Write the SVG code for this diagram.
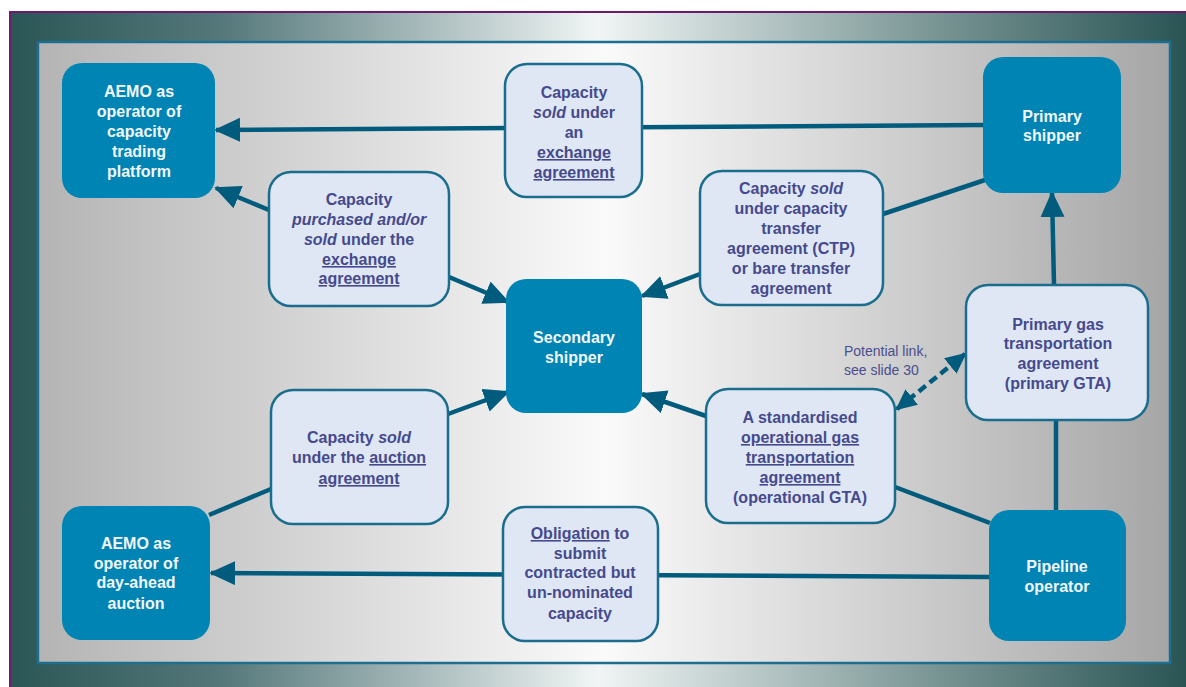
<svg xmlns="http://www.w3.org/2000/svg" width="1186" height="687" viewBox="0 0 1186 687">
  <defs>
    <linearGradient id="frameGrad" x1="0" y1="0" x2="1" y2="0">
      <stop offset="0" stop-color="#2b5656"/>
      <stop offset="0.18" stop-color="#55787a"/>
      <stop offset="0.5" stop-color="#f1f5f5"/>
      <stop offset="0.78" stop-color="#7b9796"/>
      <stop offset="1" stop-color="#2a5454"/>
    </linearGradient>
    <linearGradient id="panelGrad" x1="0" y1="0" x2="1" y2="0">
      <stop offset="0" stop-color="#b4b4b4"/>
      <stop offset="0.5" stop-color="#fafafa"/>
      <stop offset="1" stop-color="#a6a6a6"/>
    </linearGradient>
    <marker id="arrow" markerUnits="userSpaceOnUse" markerWidth="27" markerHeight="25" refX="24" refY="12" orient="auto">
      <path d="M0,0 L26,12 L0,24 Z" fill="#005b7c"/>
    </marker>
    <marker id="arrowSmall" markerUnits="userSpaceOnUse" markerWidth="22" markerHeight="21" refX="19" refY="10" orient="auto-start-reverse">
      <path d="M0,0 L21,10 L0,20 Z" fill="#005b7c"/>
    </marker>
    <style>
      .dark { fill: #0084b3; }
      .light { fill: #dfe7f5; stroke: #1b6d8e; stroke-width: 2.5; }
      .wt { font-family: "Liberation Sans", Arial, sans-serif; font-weight: bold; font-size: 16px; fill: #f2f6fa; text-anchor: middle; }
      .bt { font-family: "Liberation Sans", Arial, sans-serif; font-weight: bold; font-size: 16px; fill: #464a8c; text-anchor: middle; }
      .u { text-decoration: underline; }
      .i { font-style: italic; }
      .conn { stroke: #005b7c; stroke-width: 4.5; fill: none; }
      .dash { stroke-dasharray: 9 5; }
      .note { font-family: "Liberation Sans", Arial, sans-serif; font-size: 14px; fill: #4a4d8e; }
    </style>
  </defs>

  <!-- background frame -->
  <rect x="0" y="0" width="1186" height="687" fill="#ffffff"/>
  <rect x="10" y="12" width="1176" height="675" fill="url(#frameGrad)"/>
  <path d="M10,687 L10,12 L1186,12" fill="none" stroke="#6b1a6e" stroke-width="2"/>
  <rect x="38" y="42" width="1132" height="621" fill="url(#panelGrad)" stroke="#1e6f8f" stroke-width="2.5"/>

  <!-- connectors -->
  <g id="connectors">
    <line class="conn" x1="983" y1="125" x2="216" y2="130" marker-end="url(#arrow)"/>
    <line class="conn" x1="269" y1="210" x2="216" y2="188" marker-end="url(#arrow)"/>
    <line class="conn" x1="449" y1="277" x2="508" y2="302" marker-end="url(#arrow)"/>
    <line class="conn" x1="700" y1="274" x2="642" y2="296" marker-end="url(#arrow)"/>
    <line class="conn" x1="985" y1="180" x2="883" y2="214"/>
    <line class="conn" x1="448" y1="414" x2="508" y2="392" marker-end="url(#arrow)"/>
    <line class="conn" x1="271" y1="489" x2="209" y2="515"/>
    <line class="conn" x1="989" y1="577" x2="211" y2="573" marker-end="url(#arrow)"/>
    <line class="conn" x1="706" y1="416" x2="642" y2="394" marker-end="url(#arrow)"/>
    <line class="conn" x1="990" y1="523" x2="895" y2="487"/>
    <line class="conn" x1="1056" y1="512" x2="1056" y2="420"/>
    <line class="conn" x1="1054" y1="285" x2="1052" y2="193" marker-end="url(#arrow)"/>
    <line class="conn dash" x1="897" y1="409" x2="965" y2="354" marker-start="url(#arrowSmall)" marker-end="url(#arrowSmall)"/>
    <text class="note" x="844" y="356">Potential link,</text>
    <text class="note" x="844" y="375">see slide 30</text>
  </g>

  <!-- nodes -->
  <g id="aemo-trading">
    <rect class="dark" x="62" y="63" width="153" height="135" rx="20"/>
    <text class="wt" x="139" y="97">AEMO as</text>
    <text class="wt" x="139" y="117">operator of</text>
    <text class="wt" x="139" y="137">capacity</text>
    <text class="wt" x="139" y="157">trading</text>
    <text class="wt" x="139" y="177">platform</text>
  </g>

  <g id="exchange-sold">
    <rect class="light" x="505" y="64" width="137" height="133" rx="22"/>
    <text class="bt" x="574" y="98">Capacity</text>
    <text class="bt" x="574" y="118"><tspan class="i">sold</tspan> under</text>
    <text class="bt" x="574" y="138">an</text>
    <text class="bt u" x="574" y="158">exchange</text>
    <text class="bt u" x="574" y="178">agreement</text>
  </g>

  <g id="primary-shipper">
    <rect class="dark" x="983" y="57" width="138" height="136" rx="20"/>
    <text class="wt" x="1052" y="122">Primary</text>
    <text class="wt" x="1052" y="141">shipper</text>
  </g>

  <g id="exchange-purchased">
    <rect class="light" x="269" y="172" width="180" height="134" rx="22"/>
    <text class="bt" x="359" y="205">Capacity</text>
    <text class="bt i" x="359" y="225">purchased and/or</text>
    <text class="bt" x="359" y="245"><tspan class="i">sold</tspan> under the</text>
    <text class="bt u" x="359" y="265">exchange</text>
    <text class="bt u" x="359" y="284">agreement</text>
  </g>

  <g id="secondary-shipper">
    <rect class="dark" x="506" y="279" width="136" height="134" rx="20"/>
    <text class="wt" x="574" y="343">Secondary</text>
    <text class="wt" x="574" y="363">shipper</text>
  </g>

  <g id="ctp">
    <rect class="light" x="700" y="171" width="183" height="134" rx="22"/>
    <text class="bt" x="791" y="194">Capacity <tspan class="i">sold</tspan></text>
    <text class="bt" x="791" y="214">under capacity</text>
    <text class="bt" x="791" y="234">transfer</text>
    <text class="bt" x="791" y="254">agreement (CTP)</text>
    <text class="bt" x="791" y="274">or bare transfer</text>
    <text class="bt" x="791" y="294">agreement</text>
  </g>

  <g id="primary-gta">
    <rect class="light" x="966" y="285" width="182" height="135" rx="22"/>
    <text class="bt" x="1058" y="330">Primary gas</text>
    <text class="bt" x="1058" y="349">transportation</text>
    <text class="bt" x="1058" y="369">agreement</text>
    <text class="bt" x="1058" y="389">(primary GTA)</text>
  </g>

  <g id="auction">
    <rect class="light" x="271" y="390" width="177" height="134" rx="22"/>
    <text class="bt" x="359" y="443">Capacity <tspan class="i">sold</tspan></text>
    <text class="bt" x="359" y="463">under the <tspan class="u">auction</tspan></text>
    <text class="bt u" x="359" y="484">agreement</text>
  </g>

  <g id="aemo-auction">
    <rect class="dark" x="62" y="506" width="148" height="134" rx="20"/>
    <text class="wt" x="136" y="549">AEMO as</text>
    <text class="wt" x="136" y="569">operator of</text>
    <text class="wt" x="136" y="588">day-ahead</text>
    <text class="wt" x="136" y="609">auction</text>
  </g>

  <g id="operational-gta">
    <rect class="light" x="706" y="389" width="189" height="134" rx="22"/>
    <text class="bt" x="800" y="423">A standardised</text>
    <text class="bt u" x="800" y="443">operational gas</text>
    <text class="bt u" x="800" y="463">transportation</text>
    <text class="bt u" x="800" y="483">agreement</text>
    <text class="bt" x="800" y="503">(operational GTA)</text>
  </g>

  <g id="obligation">
    <rect class="light" x="503" y="507" width="155" height="134" rx="22"/>
    <text class="bt" x="580" y="539"><tspan class="u">Obligation</tspan> to</text>
    <text class="bt" x="580" y="559">submit</text>
    <text class="bt" x="580" y="578">contracted but</text>
    <text class="bt" x="580" y="598">un-nominated</text>
    <text class="bt" x="580" y="619">capacity</text>
  </g>

  <g id="pipeline-operator">
    <rect class="dark" x="989" y="510" width="137" height="131" rx="20"/>
    <text class="wt" x="1057" y="572">Pipeline</text>
    <text class="wt" x="1057" y="592">operator</text>
  </g>
</svg>
